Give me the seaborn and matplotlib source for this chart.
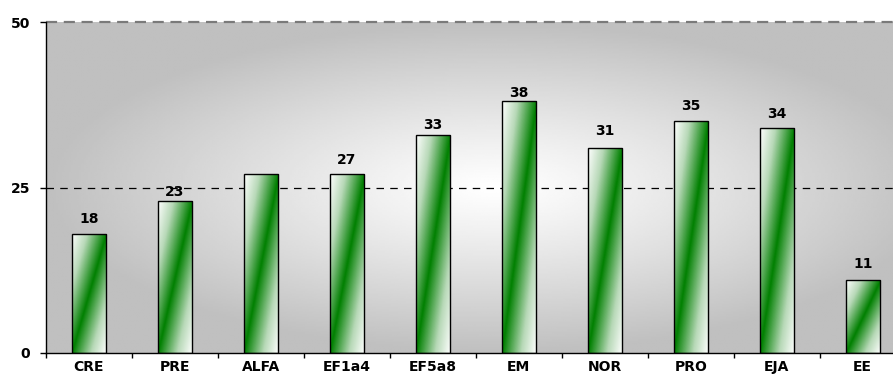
import numpy as np
import matplotlib
matplotlib.use("Agg")
import matplotlib.pyplot as plt
from matplotlib.colors import LinearSegmentedColormap
import seaborn as sns

# Chart data
categories = ["CRE", "PRE", "ALFA", "EF1a4", "EF5a8", "EM", "NOR", "PRO", "EJA", "EE"]
values = [18, 23, 27, 27, 33, 38, 31, 35, 34, 11]
value_labels = ["18", "23", "", "27", "33", "38", "31", "35", "34", "11"]
y_ticks = [0, 25, 50]

# Vertical gap (pixels) between bar top and the centre of its value label
label_gap_px = [15, 9, 0, 14, 10, 8, 17, 15, 14, 16]

sns.set_theme(style="white")
plt.rcParams["font.family"] = ["DejaVu Sans"]

DPI = 100
fig = plt.figure(figsize=(8.93, 3.78), dpi=DPI)
fig.patch.set_facecolor("white")
ax = fig.add_axes([45.7 / 893, 25 / 378, 860 / 893, 331 / 378])

# Soft radial background: near-white centre fading to grey at the edges
gx, gy = np.meshgrid(np.linspace(0, 1, 400), np.linspace(0, 1, 200))
d = np.sqrt(((gx - 0.52) / 0.52) ** 2 + ((gy - 0.5) / 0.5) ** 2)
d = np.clip(d, 0, 1)
edge, centre = 0.75, 1.0
bg = centre - (centre - edge) * d ** 1.1
ax.imshow(bg, cmap="gray", vmin=0, vmax=1, extent=[0, 1, 0, 1],
          transform=ax.transAxes, origin="lower", aspect="auto", zorder=0,
          interpolation="bilinear")

sns.barplot(x=categories, y=values, width=0.4, color="white",
            edgecolor="black", linewidth=1.0, ax=ax, zorder=3)

# Diagonal white-green-white fill for every bar
green_cmap = LinearSegmentedColormap.from_list(
    "bar_green",
    [(0.0, (1, 1, 1)), (0.22, (0.72, 0.85, 0.72)), (0.5, (0.0, 0.50, 0.0)),
     (0.78, (0.72, 0.85, 0.72)), (1.0, (1, 1, 1))])
u, v = np.meshgrid(np.linspace(0, 1, 60), np.linspace(0, 1, 200))
t = (u + (1 - v)) / 2.0

patches = list(ax.patches)
for p in patches:
    x0, y0 = p.get_x(), p.get_y()
    w, h = p.get_width(), p.get_height()
    p.set_facecolor("none")
    img = ax.imshow(t, cmap=green_cmap, vmin=0, vmax=1,
                    extent=[x0, x0 + w, y0, y0 + h], origin="lower",
                    aspect="auto", zorder=2, interpolation="bilinear")
    img.set_clip_path(p)

ax.set_xlim(-0.5, len(categories) - 0.5)
ax.set_ylim(0, 50)

# Reference lines
ax.axhline(25, color="black", linestyle=(0, (6, 5)), linewidth=0.9, zorder=1)
ax.axhline(50, color="#7a7a7a", linestyle=(0, (5, 3)), linewidth=1.6, zorder=1,
           clip_on=False)

# Value labels
px = 72.0 / DPI
for i, (val, lab) in enumerate(zip(values, value_labels)):
    if lab:
        ax.annotate(lab, xy=(i, val), xytext=(0, label_gap_px[i] * px),
                    textcoords="offset points", ha="center", va="center",
                    fontsize=10, fontweight="bold", color="black", zorder=5)

# Axes styling
for s in ["top", "right"]:
    ax.spines[s].set_visible(False)
for s in ["left", "bottom"]:
    ax.spines[s].set_color("black")
    ax.spines[s].set_linewidth(1.0)
    ax.spines[s].set_zorder(4)

ax.set_yticks(y_ticks)
ax.set_yticklabels([str(v) for v in y_ticks], fontsize=10, fontweight="bold")
ax.tick_params(axis="y", length=4.3, width=1, direction="out", pad=7,
               left=True, colors="black")

ax.set_xticks(range(len(categories)))
ax.set_xticklabels(categories, fontsize=10, fontweight="bold")
ax.set_xticks(np.arange(-0.5, len(categories), 1.0), minor=True)
ax.tick_params(axis="x", which="major", length=0, pad=5, colors="black")
ax.tick_params(axis="x", which="minor", length=3.5, width=1, direction="out",
               bottom=True, color="black")
ax.set_xlabel("")
ax.set_ylabel("")
ax.grid(False)

fig.savefig("out.png", dpi=DPI, facecolor="white")
